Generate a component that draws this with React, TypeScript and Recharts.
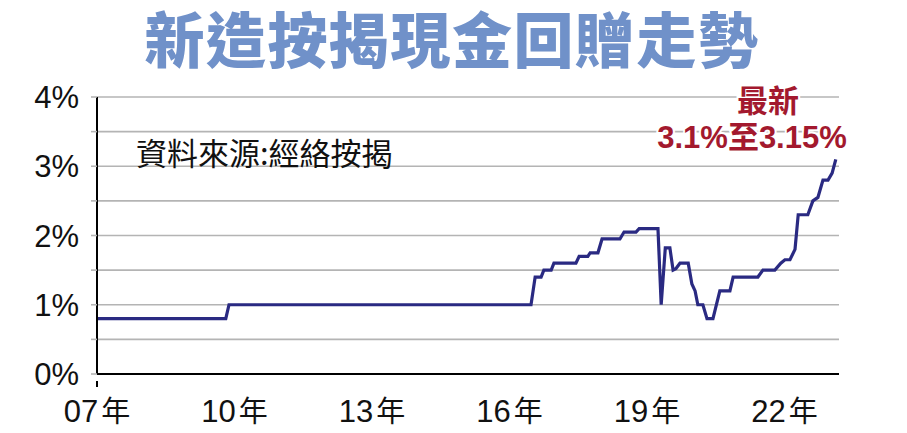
import React from "react";
import { LineChart, Line, XAxis, YAxis, CartesianGrid } from "recharts";

// Time (fractional year) and cash rebate rate (%)
const years = [
  2007.0, 2009.81, 2009.88, 2016.47, 2016.56, 2016.69, 2016.75, 2016.91, 2016.97,
  2017.45, 2017.52, 2017.71, 2017.76, 2017.93, 2018.02, 2018.41, 2018.5, 2018.76,
  2018.83, 2019.24, 2019.31, 2019.4, 2019.5, 2019.57, 2019.63, 2019.72, 2019.9,
  2019.98, 2020.05, 2020.11, 2020.22, 2020.31, 2020.44, 2020.59, 2020.81, 2020.88,
  2021.42, 2021.53, 2021.79, 2021.92, 2022.01, 2022.12, 2022.23, 2022.3, 2022.51,
  2022.62, 2022.73, 2022.84, 2022.95, 2023.04, 2023.12,
];
const rates = [
  0.8, 0.8, 1.0, 1.0, 1.4, 1.4, 1.5, 1.5, 1.6,
  1.6, 1.7, 1.7, 1.75, 1.75, 1.95, 1.95, 2.05, 2.05,
  2.1, 2.1, 1.0, 1.82, 1.82, 1.5, 1.52, 1.6, 1.6,
  1.3, 1.2, 1.0, 1.0, 0.8, 0.8, 1.2, 1.2, 1.4,
  1.4, 1.5, 1.5, 1.6, 1.65, 1.65, 1.8, 2.3, 2.3,
  2.5, 2.55, 2.8, 2.8, 2.9, 3.1,
];
const xTicks = [2007, 2010, 2013, 2016, 2019, 2022];
const yTicks = [0, 0.5, 1, 1.5, 2, 2.5, 3, 3.5, 4];

const title = "新造按揭現金回贈走勢";
const sourceText = "資料來源:經絡按揭";
const noteLine1 = "最新";
const noteLine2 = "3.1%至3.15%";

const data = years.map((y, i) => ({ t: y, v: rates[i] }));

const XTick = (props: any) => {
  const { x, y, payload, index } = props;
  const yy = String(payload.value % 100).padStart(2, "0");
  return (
    <g>
      {index === 0 && <line x1={x} x2={x} y1={y - 1} y2={y + 5} stroke="#000" strokeWidth={2} />}
      <text
        x={x}
        y={y + 40}
        textAnchor="middle"
        fontSize={31}
        fill="#111"
        fontFamily="'Liberation Sans', Arial, sans-serif"
      >
        {yy}
        <tspan dx={3} fontFamily="'Noto Sans CJK TC'" fontSize={29}>年</tspan>
      </text>
    </g>
  );
};

const YTick = (props: any) => {
  const { x, y, payload } = props;
  const v = payload.value;
  if (v % 1 !== 0) return <g />;
  return (
    <text
      x={x - 10}
      y={y + 11}
      textAnchor="end"
      fontSize={31}
      fill="#111"
      fontFamily="'Liberation Sans', Arial, sans-serif"
    >
      {v + "%"}
    </text>
  );
};

export default function App() {
  return (
    <div style={{ position: "absolute", left: 0, top: 0, width: 907, height: 433, background: "#fff" }}>
      <LineChart
        width={907}
        height={433}
        data={data}
        margin={{ top: 97, right: 68, left: 37, bottom: 19 }}
      >
        <CartesianGrid vertical={false} stroke="#b4b4b4" strokeWidth={1.6} />
        <XAxis
          dataKey="t"
          type="number"
          domain={[2007, 2023.19]}
          ticks={xTicks}
          tickLine={false}
          axisLine={{ stroke: "#000", strokeWidth: 2 }}
          tick={<XTick />}
          height={40}
          interval={0}
          allowDataOverflow
        />
        <YAxis
          type="number"
          domain={[0, 4]}
          ticks={yTicks}
          interval={0}
          width={60}
          tickSize={6}
          tickLine={{ stroke: "#b4b4b4", strokeWidth: 1.6 }}
          axisLine={{ stroke: "#000", strokeWidth: 2 }}
          tick={<YTick />}
        />
        <Line
          type="linear"
          dataKey="v"
          stroke="#2a2a82"
          strokeWidth={3.2}
          dot={false}
          isAnimationActive={false}
        />
      </LineChart>
      <svg
        width={907}
        height={433}
        style={{ position: "absolute", left: 0, top: 0, pointerEvents: "none" }}
      >
        <text
          x={452}
          y={63}
          textAnchor="middle"
          fontSize={60}
          fontWeight={900}
          letterSpacing={1.5}
          fill="#7091c9"
          fontFamily="'Noto Sans CJK TC'"
        >
          {title}
        </text>
        <text x={136} y={165} fontSize={31} fill="#111" fontFamily="'Noto Sans CJK TC'">
          {sourceText}
        </text>
        <text
          x={768}
          y={112}
          textAnchor="middle"
          fontSize={31}
          fontWeight={700}
          fill="#a3192e"
          stroke="#fff"
          strokeWidth={4}
          paintOrder="stroke"
          fontFamily="'Noto Sans CJK TC'"
        >
          {noteLine1}
        </text>
        <text
          x={752}
          y={148}
          textAnchor="middle"
          fontSize={31}
          fontWeight={700}
          fill="#a3192e"
          stroke="#fff"
          strokeWidth={4}
          paintOrder="stroke"
          fontFamily="'Liberation Sans', 'Noto Sans CJK TC', sans-serif"
        >
          {noteLine2}
        </text>
      </svg>
    </div>
  );
}
